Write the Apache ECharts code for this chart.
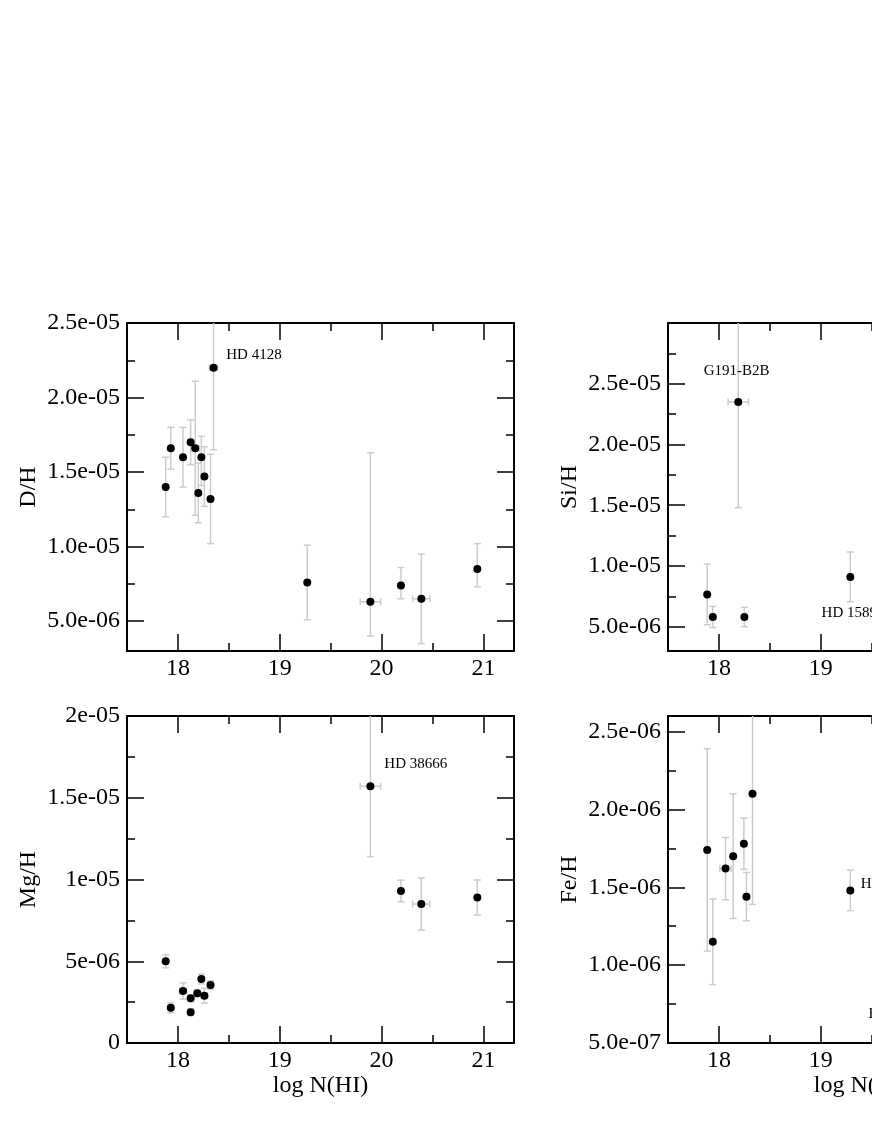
<!DOCTYPE html>
<html>
<head>
<meta charset="utf-8">
<script src="https://cdn.jsdelivr.net/npm/echarts@6/dist/echarts.min.js"></script>
<style>
html, body { margin: 0; padding: 0; overflow: hidden; background: #fff; }
#chart { width: 1100px; height: 1128px; }
</style>
</head>
<body>
<div id="chart"></div>
<script>
// x axis, shared by every panel
const xMajor = [18, 19, 20, 21];
const xMinor = [18.5, 19.5, 20.5];

// D/H
const dhX = [17.88, 17.93, 18.05, 18.125, 18.17, 18.20, 18.23, 18.26, 18.32, 18.35, 19.27, 19.89, 20.19, 20.39, 20.94];
const dhY = [1.40e-5, 1.66e-5, 1.60e-5, 1.70e-5, 1.66e-5, 1.36e-5, 1.60e-5, 1.47e-5, 1.32e-5, 2.20e-5, 7.6e-6, 6.3e-6, 7.4e-6, 6.5e-6, 8.5e-6];
const dhErrLo = [2.0e-6, 1.4e-6, 2.0e-6, 1.5e-6, 4.5e-6, 2.0e-6, 1.9e-6, 2.0e-6, 3.0e-6, 5.5e-6, 2.5e-6, 2.3e-6, 0.9e-6, 3.0e-6, 1.2e-6];
const dhErrHi = [2.0e-6, 1.4e-6, 2.0e-6, 1.5e-6, 4.5e-6, 2.0e-6, 1.4e-6, 2.0e-6, 3.0e-6, 5.5e-6, 2.5e-6, 1.0e-5, 1.2e-6, 3.0e-6, 1.7e-6];
const dhXErr = [0, 0, 0, 0, 0.04, 0, 0, 0, 0, 0.04, 0, 0.1, 0, 0.085, 0];
const dhTicks = [5e-6, 1e-5, 1.5e-5, 2e-5, 2.5e-5];
const dhTickText = ['5.0e-06', '1.0e-05', '1.5e-05', '2.0e-05', '2.5e-05'];
const dhMinor = [7.5e-6, 1.25e-5, 1.75e-5, 2.25e-5];
const dhNotes = [[18.47, 2.285e-5, 'HD 4128']];

// Si/H
const siX = [17.885, 17.94, 18.19, 18.25, 19.29];
const siY = [7.66e-6, 5.8e-6, 2.35e-5, 5.8e-6, 9.1e-6];
const siErrLo = [2.5e-6, 8.7e-7, 8.7e-6, 8e-7, 2.05e-6];
const siErrHi = [2.5e-6, 8.7e-7, 8.7e-6, 8e-7, 2.05e-6];
const siXErr = [0, 0, 0.1, 0, 0];
const siTicks = [5e-6, 1e-5, 1.5e-5, 2e-5, 2.5e-5];
const siTickText = ['5.0e-06', '1.0e-05', '1.5e-05', '2.0e-05', '2.5e-05'];
const siMinor = [7.5e-6, 1.25e-5, 1.75e-5, 2.25e-5, 2.75e-5];
const siNotes = [[17.845, 2.601e-5, 'G191-B2B'], [19.003, 6.09e-6, 'HD 158926']];

// Mg/H
const mgX = [17.88, 17.93, 18.05, 18.125, 18.125, 18.19, 18.23, 18.26, 18.32, 19.89, 20.19, 20.39, 20.94];
const mgY = [5.0e-6, 2.15e-6, 3.18e-6, 2.73e-6, 1.88e-6, 3.04e-6, 3.91e-6, 2.89e-6, 3.55e-6, 1.57e-5, 9.3e-6, 8.5e-6, 8.9e-6];
const mgErrLo = [4e-7, 3e-7, 5e-7, 2e-7, 2e-7, 2e-7, 3e-7, 4.5e-7, 2.5e-7, 4.3e-6, 6.6e-7, 1.6e-6, 1.07e-6];
const mgErrHi = [4e-7, 3e-7, 5e-7, 2e-7, 2e-7, 2e-7, 3e-7, 4.5e-7, 2.5e-7, 5.0e-6, 6.6e-7, 1.6e-6, 1.07e-6];
const mgXErr = [0, 0, 0.035, 0, 0, 0, 0, 0.03, 0.03, 0.1, 0, 0.085, 0];
const mgTicks = [0, 5e-6, 1e-5, 1.5e-5, 2e-5];
const mgTickText = ['0', '5e-06', '1e-05', '1.5e-05', '2e-05'];
const mgMinor = [2.5e-6, 7.5e-6, 1.25e-5, 1.75e-5];
const mgNotes = [[20.022, 1.706e-5, 'HD 38666']];

// Fe/H
const feX = [17.885, 17.94, 18.065, 18.14, 18.245, 18.27, 18.33, 19.29];
const feY = [1.74e-6, 1.15e-6, 1.62e-6, 1.70e-6, 1.78e-6, 1.44e-6, 2.10e-6, 1.48e-6];
const feErrLo = [6.5e-7, 2.75e-7, 2e-7, 4e-7, 1.65e-7, 1.55e-7, 7.1e-7, 1.3e-7];
const feErrHi = [6.5e-7, 2.75e-7, 2e-7, 4e-7, 1.65e-7, 1.55e-7, 7.1e-7, 1.3e-7];
const feXErr = [0, 0, 0.055, 0, 0, 0, 0, 0];
const feTicks = [5e-7, 1e-6, 1.5e-6, 2e-6, 2.5e-6];
const feTickText = ['5.0e-07', '1.0e-06', '1.5e-06', '2.0e-06', '2.5e-06'];
const feMinor = [7.5e-7, 1.25e-6, 1.75e-6, 2.25e-6];
const feNotes = [[19.388, 1.519e-6, 'HD 158926'], [19.464, 6.86e-7, 'HD 93521']];

const FONT = '"Liberation Serif", "Times New Roman", serif';

const panels = [
    { name: 'D/H', left: 127, top: 323, height: 328, min: 3e-6, max: 2.5e-5, xName: false,
      x: dhX, y: dhY, lo: dhErrLo, hi: dhErrHi, xe: dhXErr, ticks: dhTicks, text: dhTickText, minor: dhMinor, notes: dhNotes },
    { name: 'Si/H', left: 668, top: 323, height: 328, min: 3e-6, max: 3e-5, xName: false,
      x: siX, y: siY, lo: siErrLo, hi: siErrHi, xe: siXErr, ticks: siTicks, text: siTickText, minor: siMinor, notes: siNotes },
    { name: 'Mg/H', left: 127, top: 716, height: 327, min: 0, max: 2e-5, xName: true,
      x: mgX, y: mgY, lo: mgErrLo, hi: mgErrHi, xe: mgXErr, ticks: mgTicks, text: mgTickText, minor: mgMinor, notes: mgNotes },
    { name: 'Fe/H', left: 668, top: 716, height: 327, min: 5e-7, max: 2.6e-6, xName: true,
      x: feX, y: feY, lo: feErrLo, hi: feErrHi, xe: feXErr, ticks: feTicks, text: feTickText, minor: feMinor, notes: feNotes }
]

const grid = []
const xAxis = []
const yAxis = []
const series = []

const tickLine = { color: '#000', width: 1.5 }

function axisPart (g, pos, ticks, len, frame) {
    return {
        gridIndex: g,
        type: 'value',
        position: pos,
        splitLine: { show: false },
        axisLine: { show: frame, onZero: false, lineStyle: { color: '#000', width: 2 } },
        axisTick: { show: true, inside: true, length: len, customValues: ticks, lineStyle: tickLine },
        axisLabel: { show: false }
    }
}

function findText (v, vals, text) {
    for (let i = 0; i < vals.length; i++) {
        if (Math.abs(v - vals[i]) < Math.abs(vals[1] - vals[0]) * 1e-3) return text[i]
    }
    return ''
}

function errorBar (params, api) {
    const x = api.value(0)
    const y = api.value(1)
    const lo = api.value(2)
    const hi = api.value(3)
    const xe = api.value(4)
    const style = { stroke: '#cccccc', lineWidth: 1.5, fill: null }
    const cap = 3.5
    const t = api.coord([x, y + hi])
    const b = api.coord([x, y - lo])
    const kids = [
        { type: 'line', shape: { x1: t[0], y1: t[1], x2: b[0], y2: b[1] }, style },
        { type: 'line', shape: { x1: t[0] - cap, y1: t[1], x2: t[0] + cap, y2: t[1] }, style },
        { type: 'line', shape: { x1: b[0] - cap, y1: b[1], x2: b[0] + cap, y2: b[1] }, style }
    ]
    if (xe > 0) {
        const l = api.coord([x - xe, y])
        const r = api.coord([x + xe, y])
        kids.push({ type: 'line', shape: { x1: l[0], y1: l[1], x2: r[0], y2: r[1] }, style })
        kids.push({ type: 'line', shape: { x1: l[0], y1: l[1] - cap, x2: l[0], y2: l[1] + cap }, style })
        kids.push({ type: 'line', shape: { x1: r[0], y1: r[1] - cap, x2: r[0], y2: r[1] + cap }, style })
    }
    return { type: 'group', children: kids }
}

panels.forEach((p, g) => {
    grid.push({ left: p.left, top: p.top, width: 387, height: p.height })

    // 主 x 轴（底部，带刻度标签）
    const xb = axisPart(g, 'bottom', xMajor, 17, true)
    xb.axisLabel = {
        show: true, customValues: xMajor, margin: 6, color: '#000',
        fontFamily: FONT, fontSize: 24, formatter: v => String(Math.round(v))
    }
    if (p.xName) {
        xb.name = 'log N(HI)'
        xb.nameLocation = 'middle'
        xb.nameGap = 31
        xb.nameTextStyle = { color: '#000', fontFamily: FONT, fontSize: 24 }
    }
    const xAxes = [
        xb,
        axisPart(g, 'bottom', xMinor, 8, false),
        axisPart(g, 'top', xMajor, 17, true),
        axisPart(g, 'top', xMinor, 8, false)
    ]
    xAxes.forEach(a => { a.min = 17.5; a.max = 21.3 })

    const yl = axisPart(g, 'left', p.ticks, 17, true)
    yl.axisLabel = {
        show: true, customValues: p.ticks, margin: 7, color: '#000',
        fontFamily: FONT, fontSize: 24, showMinLabel: true, showMaxLabel: true,
        formatter: v => findText(v, p.ticks, p.text)
    }
    yl.name = p.name
    yl.nameLocation = 'middle'
    yl.nameGap = 86
    yl.nameTextStyle = { color: '#000', fontFamily: FONT, fontSize: 24 }
    const yAxes = [
        yl,
        axisPart(g, 'left', p.minor, 8, false),
        axisPart(g, 'right', p.ticks, 17, true),
        axisPart(g, 'right', p.minor, 8, false)
    ]
    yAxes.forEach(a => { a.min = p.min; a.max = p.max })

    const xi = xAxis.length
    const yi = yAxis.length
    xAxis.push(...xAxes)
    yAxis.push(...yAxes)

    series.push({
        type: 'custom',
        xAxisIndex: xi,
        yAxisIndex: yi,
        clip: true,
        renderItem: errorBar,
        data: p.x.map((v, i) => [v, p.y[i], p.lo[i], p.hi[i], p.xe[i]]),
        z: 2,
        silent: true
    })
    series.push({
        type: 'scatter',
        xAxisIndex: xi,
        yAxisIndex: yi,
        symbol: 'circle',
        symbolSize: 8,
        itemStyle: { color: '#000', opacity: 1 },
        data: p.x.map((v, i) => [v, p.y[i]]),
        z: 3,
        silent: true
    })
    // 标注文字
    series.push({
        type: 'scatter',
        xAxisIndex: xi,
        yAxisIndex: yi,
        symbol: 'circle',
        symbolSize: 1,
        itemStyle: { color: '#fff', opacity: 1 },
        data: p.notes.map(n => ({ value: [n[0], n[1]], name: n[2] })),
        label: {
            show: true, position: 'right', distance: 0, formatter: '{b}',
            color: '#000', opacity: 1, fontFamily: FONT, fontSize: 15
        },
        z: 4,
        silent: true
    })
})

const chart = echarts.init(document.getElementById('chart'), null, { renderer: 'canvas' })
chart.setOption({
    animation: false,
    backgroundColor: '#fff',
    grid,
    xAxis,
    yAxis,
    series
})
</script>
</body>
</html>
